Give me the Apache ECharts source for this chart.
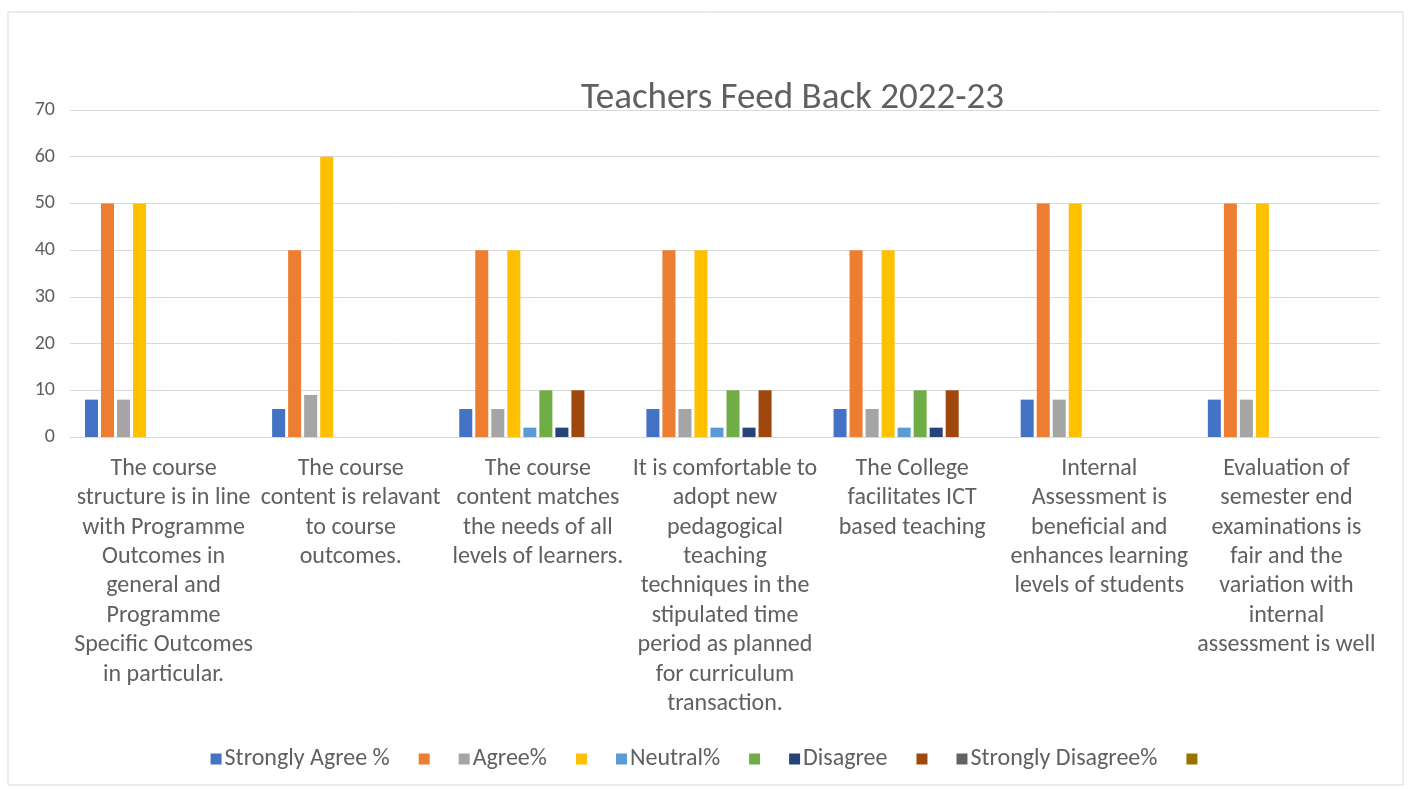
<!DOCTYPE html>
<html>
<head>
<meta charset="utf-8">
<script src="https://cdn.jsdelivr.net/npm/echarts@6/dist/echarts.min.js"></script>
<style>
html,body{margin:0;padding:0;background:#fff;}
#chart{width:1408px;height:789px;}
</style>
</head>
<body>
<div id="chart"></div>
<script>
const categories = [
  "The course\nstructure is in line\nwith Programme\nOutcomes in\ngeneral and\nProgramme\nSpecific Outcomes\nin particular.",
  "The course\ncontent is relavant\nto course\noutcomes.",
  "The course\ncontent matches\nthe needs of all\nlevels of learners.",
  "It is comfortable to\nadopt new\npedagogical\nteaching\ntechniques in the\nstipulated time\nperiod as planned\nfor curriculum\ntransaction.",
  "The College\nfacilitates ICT\nbased teaching",
  "Internal\nAssessment is\nbeneficial and\nenhances learning\nlevels of students",
  "Evaluation of\nsemester end\nexaminations is\nfair and the\nvariation with\ninternal\nassessment is well"
];
const seriesNames = ["Strongly Agree %", "_2", "Agree%", "_4", "Neutral%", "_6", "Disagree", "_8", "Strongly Disagree%", "_10"];
const stronglyAgree   = [8, 6, 6, 6, 6, 8, 8];
const series2         = [50, 40, 40, 40, 40, 50, 50];
const agree           = [8, 9, 6, 6, 6, 8, 8];
const series4         = [50, 60, 40, 40, 40, 50, 50];
const neutral         = [0, 0, 2, 2, 2, 0, 0];
const series6         = [0, 0, 10, 10, 10, 0, 0];
const disagree        = [0, 0, 2, 2, 2, 0, 0];
const series8         = [0, 0, 10, 10, 10, 0, 0];
const stronglyDisagree= [0, 0, 0, 0, 0, 0, 0];
const series10        = [0, 0, 0, 0, 0, 0, 0];
const yTicks = [0, 10, 20, 30, 40, 50, 60, 70];
const colors = ["#4472C4", "#ED7D31", "#A5A5A5", "#FFC000", "#5B9BD5", "#70AD47", "#264478", "#9E480E", "#636363", "#997300"];
const allValues = [stronglyAgree, series2, agree, series4, neutral, series6, disagree, series8, stronglyDisagree, series10];

const font = "Carlito, Lato, sans-serif";
const textColor = '#606060';
const chart = echarts.init(document.getElementById('chart'));
chart.setOption({
  animation: false,
  color: colors,
  title: {
    text: 'Teachers Feed Back 2022-23',
    left: 576, top: 75,
    textStyle: { fontFamily: font, fontSize: 37, fontWeight: 'normal', color: textColor }
  },
  graphic: [{
    type: 'rect', shape: { x: 8, y: 12, width: 1395, height: 773 },
    style: { fill: 'none', stroke: '#d9d9d9', lineWidth: 1 }, silent: true
  }],
  legend: {
    bottom: 13, left: 'center',
    itemWidth: 11, itemHeight: 11, itemGap: 29,
    icon: 'rect',
    data: seriesNames,
    formatter: n => n.startsWith('_') ? '' : n,
    textStyle: { fontFamily: font, fontSize: 24, color: textColor, padding: [0, 0, 0, -2] }
  },
  grid: { left: 70, right: 28, top: 110, bottom: 352 },
  xAxis: {
    type: 'category', data: categories,
    axisTick: { show: false },
    axisLine: { lineStyle: { color: '#d9d9d9' } },
    axisLabel: { interval: 0, margin: 17, fontFamily: font, fontSize: 24, lineHeight: 29.4, color: textColor, align: 'center' }
  },
  yAxis: {
    type: 'value', min: 0, max: 70, interval: 10,
    axisLine: { show: false }, axisTick: { show: false },
    splitLine: { lineStyle: { color: '#d9d9d9' } },
    axisLabel: { fontFamily: font, fontSize: 20, color: textColor, margin: 15,
      formatter: v => yTicks.includes(v) ? String(v) : '' }
  },
  series: seriesNames.map((n, i) => ({
    name: n, type: 'bar', data: allValues[i],
    barCategoryGap: '16%', barGap: '23%'
  }))
});
</script>
</body>
</html>
